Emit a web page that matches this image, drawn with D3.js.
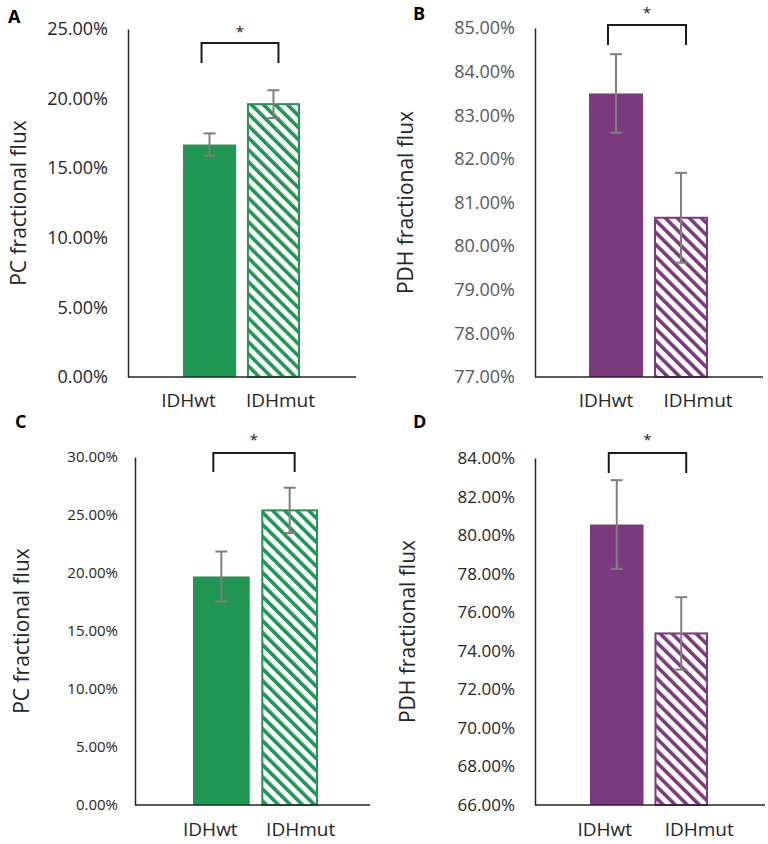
<!DOCTYPE html>
<html>
<head>
<meta charset="utf-8">
<script src="https://cdn.jsdelivr.net/npm/d3@7"></script>
<style>
  body { margin: 0; background: #fff; }
  svg { display: block; }
  text { font-family: "Open Sans", "Liberation Sans", sans-serif; }
</style>
</head>
<body>
<svg id="chart" width="768" height="844"></svg>
<script>
// data (percent)
const categories = ["IDHwt", "IDHmut"];

const pcFluxA = [16.7, 19.6];
const pcErrA = [0.8, 1.0];
const ticksA = [0, 5, 10, 15, 20, 25];

const pdhFluxB = [83.5, 80.65];
const pdhErrB = [0.9, 1.03];
const ticksB = [77, 78, 79, 80, 81, 82, 83, 84, 85];

const pcFluxC = [19.7, 25.4];
const pcErrC = [2.15, 1.95];
const ticksC = [0, 5, 10, 15, 20, 25, 30];

const pdhFluxD = [80.55, 74.9];
const pdhErrD = [2.3, 1.88];
const ticksD = [66, 68, 70, 72, 74, 76, 78, 80, 82, 84];

const green = "#1f9652";
const purple = "#7c3a7e";

const svg = d3.select("#chart");
const defs = svg.append("defs");

// diagonal hatch for the IDHmut bars
[["hatch-green", green], ["hatch-purple", purple]].forEach(([id, col]) => {
  const p = defs.append("pattern")
    .attr("id", id)
    .attr("patternUnits", "userSpaceOnUse")
    .attr("width", 8.5).attr("height", 8.5)
    .attr("patternTransform", "rotate(-45)");
  p.append("rect").attr("width", 8.5).attr("height", 8.5).attr("fill", "#fff");
  p.append("rect").attr("width", 3.6).attr("height", 8.5).attr("fill", col);
});

const panels = [
  { letter: "A", lx: 8, ly: 23, values: pcFluxA, errs: pcErrA, ticks: ticksA, color: green, hatch: "hatch-green",
    title: "PC fractional flux", titleX: 18, ax: 128, top: 29, bottom: 377, right: 356, labelRight: 108,
    barL: 55, barR: 172, tickSize: 18, tickColor: "#262626", catY: 407, catOff: [-21, 7],
    starY: 37, brTop: 43, brBot: 63 },
  { letter: "B", lx: 413, ly: 20, values: pdhFluxB, errs: pdhErrB, ticks: ticksB, color: purple, hatch: "hatch-purple",
    title: "PDH fractional flux", titleX: 405, ax: 535, top: 28, bottom: 377, right: 763, labelRight: 515,
    barL: 54, barR: 173, tickSize: 18, tickColor: "#595959", catY: 407, catOff: [-10, 17],
    starY: 18, brTop: 25, brBot: 45 },
  { letter: "C", lx: 15, ly: 428, values: pcFluxC, errs: pcErrC, ticks: ticksC, color: green, hatch: "hatch-green",
    title: "PC fractional flux", titleX: 21, ax: 135, top: 457, bottom: 805, right: 370, labelRight: 118,
    barL: 58, barR: 183, tickSize: 15, tickColor: "#262626", catY: 836, catOff: [-11, 11],
    starY: 445, brTop: 453, brBot: 472 },
  { letter: "D", lx: 413, ly: 428, values: pdhFluxD, errs: pdhErrD, ticks: ticksD, color: purple, hatch: "hatch-purple",
    title: "PDH fractional flux", titleX: 407, ax: 535, top: 458, bottom: 805, right: 765, labelRight: 515,
    barL: 55, barR: 173, tickSize: 17, tickColor: "#262626", catY: 836, catOff: [-12, 18],
    starY: 445, brTop: 453, brBot: 473 }
];

panels.forEach(p => {
  const g = svg.append("g");

  const y = d3.scaleLinear()
    .domain([p.ticks[0], p.ticks[p.ticks.length - 1]])
    .range([p.bottom, p.top]);

  const x = d3.scaleBand()
    .domain(categories)
    .range([p.ax + p.barL, p.ax + p.barR])
    .paddingInner(0.17);

  // panel letter
  g.append("text")
    .attr("x", p.lx).attr("y", p.ly)
    .attr("font-family", "Liberation Sans, Arial, sans-serif")
    .attr("font-weight", "bold").attr("font-size", 18)
    .text(p.letter);

  // y axis (line only, labels on the left)
  const yAxis = d3.axisLeft(y)
    .tickValues(p.ticks)
    .tickSize(0)
    .tickPadding(p.ax - p.labelRight)
    .tickFormat(d => d.toFixed(2) + "%");
  const ya = g.append("g")
    .attr("transform", `translate(${p.ax},0)`)
    .call(yAxis);
  ya.select(".domain").attr("stroke", "#262626").attr("stroke-width", 1.5);
  ya.selectAll("text")
    .attr("font-size", p.tickSize)
    .attr("fill", p.tickColor)
    .attr("font-family", "Open Sans, sans-serif");

  // bars
  g.selectAll(".bar")
    .data(p.values)
    .join("rect")
    .attr("class", "bar")
    .attr("x", (d, i) => x(categories[i]) + (i === 1 ? 1 : 0))
    .attr("y", d => y(d))
    .attr("width", (d, i) => x.bandwidth() - (i === 1 ? 2 : 0))
    .attr("height", d => p.bottom - y(d))
    .attr("fill", (d, i) => i === 0 ? p.color : `url(#${p.hatch})`)
    .attr("stroke", (d, i) => i === 0 ? "none" : p.color)
    .attr("stroke-width", 2);

  // baseline
  g.append("line")
    .attr("x1", p.ax).attr("x2", p.right)
    .attr("y1", p.bottom).attr("y2", p.bottom)
    .attr("stroke", "#262626").attr("stroke-width", 1.5);

  // error bars
  const eb = g.selectAll(".err")
    .data(p.values.map((v, i) => ({ v, e: p.errs[i], c: categories[i] })))
    .join("g")
    .attr("class", "err")
    .attr("stroke", "#7f7f7f").attr("stroke-width", 2);
  const cx = d => x(d.c) + x.bandwidth() / 2;
  eb.append("line")
    .attr("x1", cx).attr("x2", cx)
    .attr("y1", d => y(d.v + d.e)).attr("y2", d => y(d.v - d.e));
  eb.append("line")
    .attr("x1", d => cx(d) - 6).attr("x2", d => cx(d) + 6)
    .attr("y1", d => y(d.v + d.e)).attr("y2", d => y(d.v + d.e));
  eb.append("line")
    .attr("x1", d => cx(d) - 6).attr("x2", d => cx(d) + 6)
    .attr("y1", d => y(d.v - d.e)).attr("y2", d => y(d.v - d.e));

  // category labels
  g.selectAll(".cat")
    .data(categories)
    .join("text")
    .attr("class", "cat")
    .attr("x", (d, i) => x(d) + x.bandwidth() / 2 + p.catOff[i])
    .attr("y", p.catY)
    .attr("text-anchor", "middle")
    .attr("font-size", 19)
    .attr("fill", "#262626")
    .text(d => d);

  // significance bracket
  const x0 = x(categories[0]) + x.bandwidth() / 2 - 8;
  const x1 = x(categories[1]) + x.bandwidth() / 2 + 5;
  g.append("path")
    .attr("d", `M${x0},${p.brBot}V${p.brTop}H${x1}V${p.brBot}`)
    .attr("fill", "none").attr("stroke", "#1a1a1a").attr("stroke-width", 2);
  g.append("text")
    .attr("x", (x0 + x1) / 2).attr("y", p.starY)
    .attr("text-anchor", "middle")
    .attr("font-size", 15)
    .attr("fill", "#1a1a1a")
    .text("*");

  // y axis title
  g.append("text")
    .attr("transform", `translate(${p.titleX},${(p.top + p.bottom) / 2}) rotate(-90)`)
    .attr("text-anchor", "middle")
    .attr("dominant-baseline", "central")
    .attr("font-size", 21)
    .attr("fill", "#262626")
    .text(p.title);
});
</script>
</body>
</html>
